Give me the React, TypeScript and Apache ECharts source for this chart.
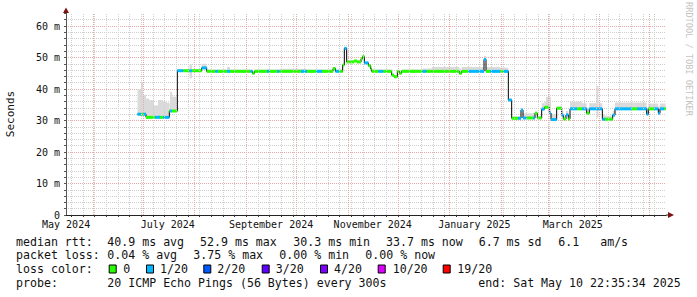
import React, { useEffect, useRef } from 'react';
import * as echarts from 'echarts';

const MONO = '"DejaVu Sans Mono", "Liberation Mono", monospace';

// Time frame: last 360 days ending Sat May 10 22:35:34 2025
const START_UTC = Date.UTC(2024, 4, 15, 22, 35, 34);
const SPAN_DAYS = 360;
const dayOf = (iso: string) => (Date.parse(iso + 'T00:00:00Z') - START_UTC) / 86400000;

const xLabelText = ['May 2024', 'July 2024', 'September 2024', 'November 2024', 'January 2025', 'March 2025'];
const xLabelDate = ['2024-05-16', '2024-07-16', '2024-09-16', '2024-11-16', '2025-01-16', '2025-03-16'];
const monthStartDate = [
  '2024-06-01', '2024-07-01', '2024-08-01', '2024-09-01', '2024-10-01', '2024-11-01',
  '2024-12-01', '2025-01-01', '2025-02-01', '2025-03-01', '2025-04-01', '2025-05-01',
];
const firstWeekDate = '2024-05-19';

const yMax = 64;
const yLabelValues = [0, 10, 20, 30, 40, 50, 60];

// Step data: each step holds from stepDay[i] until stepDay[i+1] (days since graph start)
const stepDay = [
  42.9, 45.0, 46.2, 48.0, 49.8, 52.8, 53.4, 55.2, 56.4, 58.2, 60.6, 62.0, 62.4, 63.6,
  66.8, 70.4, 74.1, 75.6, 81.4, 84.4, 89.7, 91.2, 96.6, 98.4, 110.7, 111.9, 113.1, 120.6,
  122.1, 126.6, 128.1, 141.0, 144.6, 150.0, 153.6, 160.2, 161.7, 163.8, 166.0, 167.0, 168.4, 172.8,
  174.6, 177.0, 177.9, 179.0, 181.4, 182.8, 183.4, 187.4, 190.4, 195.4, 196.8, 198.8, 200.1, 201.3,
  214.0, 216.4, 219.4, 236.0, 237.4, 241.2, 250.8, 252.0, 254.4, 260.4, 262.2, 265.4, 267.4, 271.2,
  273.0, 274.2, 276.6, 280.2, 281.4, 282.8, 285.4, 287.1, 288.0, 290.0, 291.0, 294.4, 297.4, 298.4,
  300.0, 301.4, 302.4, 306.6, 309.6, 312.4, 314.0, 318.3, 319.5, 321.8, 323.4, 328.0, 329.4, 339.6,
  342.6, 348.4, 349.4, 352.8, 355.4, 356.4, 358.8,
];
const lastDay = 359.8;
const medianMs = [
  32.0, 32.0, 32.0, 31.0, 31.0, 31.0, 31.0, 31.0, 31.0, 31.0, 31.0, 33.0, 33.0, 33.0,
  45.8, 45.8, 45.8, 45.8, 46.7, 45.6, 45.6, 45.6, 45.6, 45.6, 45.6, 45.0, 45.6, 45.6,
  45.6, 45.6, 45.6, 45.6, 45.6, 45.6, 45.6, 46.5, 45.6, 45.6, 47.6, 52.9, 48.6, 48.9,
  48.6, 49.6, 50.3, 48.3, 47.4, 46.4, 45.6, 45.6, 45.6, 44.4, 43.9, 45.6, 45.0, 45.6,
  45.6, 45.6, 45.6, 45.0, 45.6, 45.6, 49.4, 45.6, 45.6, 45.6, 45.6, 36.5, 30.7, 30.7,
  33.3, 30.8, 30.8, 30.8, 32.3, 30.8, 33.6, 34.2, 34.2, 32.4, 30.3, 33.9, 31.7, 30.5,
  31.8, 30.5, 33.7, 33.7, 33.7, 32.3, 33.7, 33.7, 33.7, 30.4, 30.4, 31.7, 33.7, 33.7,
  33.7, 32.0, 33.7, 33.7, 32.3, 33.7, 33.7,
];
const lossLevel = [
  1, 0, 1, 0, 0, 0, 1, 1, 0, 1, 1, 0, 1, 0,
  1, 0, 1, 0, 1, 0, 1, 0, 1, 0, 1, 0, 0, 1,
  0, 1, 0, 1, 0, 1, 0, 0, 1, 0, 0, 1, 0, 0,
  0, 0, 0, 1, 0, 0, 0, 1, 0, 0, 0, 0, 0, 0,
  1, 0, 0, 0, 0, 1, 1, 0, 1, 0, 1, 1, 0, 1,
  1, 1, 0, 1, 0, 0, 1, 0, 0, 1, 1, 0, 1, 0,
  1, 0, 1, 0, 1, 0, 1, 1, 1, 1, 0, 1, 1, 0,
  1, 1, 0, 1, 1, 1, 0,
];
const smokeMinMs = [
  31.6, 31.6, 31.6, 30.7, 30.7, 30.7, 30.7, 30.7, 30.7, 30.7, 30.7, 32.7, 32.7, 32.7,
  45.5, 45.5, 43.4, 45.5, 46.3, 45.3, 45.3, 45.3, 45.3, 45.3, 45.3, 44.7, 45.3, 45.3,
  45.3, 45.3, 45.3, 45.3, 45.3, 45.3, 45.3, 46.2, 45.3, 45.3, 47.3, 52.6, 48.3, 48.6,
  48.3, 49.3, 50.0, 48.0, 47.1, 46.1, 45.3, 45.3, 45.3, 44.1, 43.6, 45.3, 44.7, 45.3,
  45.3, 45.3, 45.3, 44.7, 45.3, 45.3, 49.1, 45.3, 45.3, 45.3, 45.3, 36.2, 30.4, 30.4,
  33.0, 30.5, 30.5, 30.5, 32.0, 30.5, 33.3, 33.9, 33.9, 32.1, 30.0, 33.6, 31.4, 30.2,
  31.5, 30.2, 33.4, 33.4, 33.4, 32.0, 33.4, 31.0, 33.4, 30.1, 30.1, 31.4, 33.4, 33.4,
  33.4, 31.7, 33.4, 33.4, 32.0, 33.4, 33.4,
];
const smokeMaxMs = [
  39.9, 42.0, 38.1, 37.0, 36.5, 34.8, 34.8, 36.5, 36.5, 36.0, 35.6, 35.6, 39.1, 37.6,
  46.3, 46.3, 47.8, 46.3, 48.0, 46.2, 46.2, 46.2, 47.0, 46.2, 46.2, 45.8, 46.2, 46.4,
  46.2, 46.2, 46.4, 46.4, 46.2, 46.2, 46.2, 46.8, 46.2, 46.2, 48.0, 53.2, 49.0, 49.2,
  49.0, 50.0, 50.6, 48.6, 47.7, 46.7, 46.2, 46.2, 46.2, 44.7, 44.2, 46.0, 45.4, 46.2,
  46.5, 46.5, 47.0, 46.5, 47.0, 47.0, 50.5, 47.0, 47.0, 46.8, 46.8, 37.0, 31.3, 31.3,
  33.6, 32.3, 32.3, 32.3, 32.8, 31.5, 35.5, 36.0, 37.5, 37.5, 32.0, 34.4, 33.0, 31.5,
  33.0, 31.5, 36.0, 36.0, 35.5, 34.0, 35.5, 41.0, 35.5, 32.0, 31.5, 33.0, 35.7, 35.7,
  35.7, 34.0, 35.4, 35.4, 34.5, 35.4, 35.4,
];

const lossLabels = ['0', '1/20', '2/20', '3/20', '4/20', '10/20', '19/20'];
const lossColors = ['#26ff00', '#00b8ff', '#0059ff', '#5e00ff', '#7e00ff', '#dd00ff', '#ff0000'];

const rttStats = ['40.9 ms avg', '52.9 ms max', '30.3 ms min', '33.7 ms now', '6.7 ms sd', '6.1   am/s'];
const lossStats = ['0.04 % avg', '3.75 % max', '0.00 % min', '0.00 % now'];
const probeText = '20 ICMP Echo Pings (56 Bytes) every 300s';
const endText = 'end: Sat May 10 22:35:34 2025';

export default function App() {
  const ref = useRef<HTMLDivElement>(null);

  useEffect(() => {
    const chart = echarts.init(ref.current!, null, { renderer: 'svg' });

    const xLabelDays = xLabelDate.map(dayOf);
    const monthDays = monthStartDate.map(dayOf);
    const weekDays: number[] = [];
    for (let d = dayOf(firstWeekDate); d < SPAN_DAYS; d += 7) weekDays.push(d);

    const segData = stepDay.map((d, i) => [
      d,
      i + 1 < stepDay.length ? stepDay[i + 1] : lastDay,
      medianMs[i],
      lossLevel[i],
      smokeMinMs[i],
      smokeMaxMs[i],
    ]);
    const lineData = stepDay.map((d, i) => [d, medianMs[i]]);
    lineData.push([lastDay, medianMs[medianMs.length - 1]]);

    const txt = (x: number, y: number, text: string, extra: any = {}) => ({
      type: 'text',
      x,
      y,
      silent: true,
      style: {
        text,
        fill: '#111',
        font: `11.6px ${MONO}`,
        textVerticalAlign: 'middle',
        ...extra,
      },
    });

    const rttX = [107.3, 200, 293.3, 386, 478.7, 558.3];
    const lossX = [107.3, 193.3, 279.3, 365.3];
    const boxX = [108.7, 146, 203.3, 261.7, 320, 377.7, 442.7];
    const boxLabelX = [123.3, 160, 217.3, 275.7, 334, 392.7, 457.3];
    const rowY = [241.7, 255.2, 269.3, 283.2];

    const graphic: any[] = [
      txt(16, rowY[0], 'median rtt:'),
      ...rttStats.map((s, i) => txt(rttX[i], rowY[0], s)),
      txt(16, rowY[1], 'packet loss:'),
      ...lossStats.map((s, i) => txt(lossX[i], rowY[1], s)),
      txt(16, rowY[2], 'loss color:'),
      ...lossColors.map((c, i) => ({
        type: 'rect',
        silent: true,
        shape: { x: boxX[i] + 0.5, y: 265, width: 7, height: 8 },
        style: { fill: c, stroke: '#000', lineWidth: 1 },
      })),
      ...lossLabels.map((s, i) => txt(boxLabelX[i], rowY[2], s)),
      txt(16, rowY[3], 'probe:'),
      txt(107.3, rowY[3], probeText),
      txt(478.3, rowY[3], endText),
      {
        type: 'text',
        x: 10.5,
        y: 114,
        rotation: Math.PI / 2,
        silent: true,
        style: {
          text: 'Seconds',
          fill: '#111',
          font: `11px ${MONO}`,
          textAlign: 'center',
          textVerticalAlign: 'middle',
        },
      },
      {
        type: 'text',
        x: 688.5,
        y: 59,
        rotation: -Math.PI / 2,
        silent: true,
        style: {
          text: 'RRDTOOL / TOBI OETIKER',
          fill: '#c4c4c4',
          font: `8.6px ${MONO}`,
          textAlign: 'center',
          textVerticalAlign: 'middle',
        },
      },
      {
        type: 'line',
        silent: true,
        shape: { x1: 666, y1: 215, x2: 669, y2: 215 },
        style: { stroke: '#222', lineWidth: 1 },
      },
      {
        type: 'polygon',
        silent: true,
        shape: { points: [[668, 212], [674, 215], [668, 218]] },
        style: { fill: '#7d1212' },
      },
      {
        type: 'line',
        silent: true,
        shape: { x1: 66, y1: 13.4, x2: 66, y2: 11 },
        style: { stroke: '#555', lineWidth: 1 },
      },
      {
        type: 'polygon',
        silent: true,
        shape: { points: [[63, 13], [66, 7.5], [69, 13]] },
        style: { fill: '#7d1212' },
      },
    ];

    const minorColor = '#cfcfcf';
    const majorColor = '#eaa9a9';
    const minorLine = { show: true, lineStyle: { color: minorColor, width: 1, type: [1, 1] } };
    const majorLine = { show: true, lineStyle: { color: majorColor, width: 1, type: [1, 1] } };

    const gridMarkSeries = (days: number[], color: string, z: number) => ({
      type: 'line',
      silent: true,
      xAxisIndex: 0,
      yAxisIndex: 0,
      z,
      symbol: 'none',
      lineStyle: { opacity: 0 },
      data: lineData,
      markLine: {
        silent: true,
        symbol: ['none', 'none'],
        label: { show: false },
        emphasis: { disabled: true },
        lineStyle: { color, width: 1, type: [1, 1] },
        data: days.map((d) => ({ xAxis: d })),
      },
    });

    chart.setOption({
      animation: false,
      backgroundColor: '#ffffff',
      grid: { left: 66, top: 13.4, width: 600, height: 201.6, containLabel: false, outerBoundsMode: 'none' },
      xAxis: [
        {
          type: 'value',
          min: 0,
          max: SPAN_DAYS,
          position: 'bottom',
          axisLine: { show: true, lineStyle: { color: '#222', width: 1 } },
          axisTick: { show: true, length: 2, customValues: weekDays, lineStyle: { color: '#333' } },
          splitLine: { show: false },
          axisLabel: {
            show: true,
            customValues: xLabelDays,
            margin: 4,
            color: '#111',
            fontFamily: MONO,
            fontSize: 10,
            formatter: (v: number) => {
              const i = xLabelDays.findIndex((d) => Math.abs(d - v) < 0.01);
              return i >= 0 ? xLabelText[i] : '';
            },
          },
        },
      ],
      yAxis: [
        {
          type: 'value',
          min: 0,
          max: yMax,
          interval: 2,
          position: 'left',
          axisLine: { show: true, lineStyle: { color: '#555', width: 1 } },
          axisTick: { show: true, length: 2, lineStyle: { color: '#555' } },
          splitLine: { ...minorLine, showMinLine: false, showMaxLine: false },
          axisLabel: { show: false },
        },
        {
          type: 'value',
          min: 0,
          max: yMax,
          interval: 10,
          position: 'left',
          axisLine: { show: false },
          axisTick: { show: false },
          splitLine: { ...majorLine, showMinLine: false, showMaxLine: false },
          axisLabel: {
            show: true,
            margin: 6,
            color: '#111',
            fontFamily: MONO,
            fontSize: 10,
            showMaxLabel: false,
            formatter: (v: number) =>
              yLabelValues.includes(v) ? (v === 0 ? '0' : `${v} m`) : '',
          },
        },
      ],
      series: [
        gridMarkSeries(weekDays, minorColor, 0),
        gridMarkSeries(monthDays, majorColor, 1),
        {
          type: 'custom',
          name: 'smoke',
          silent: true,
          xAxisIndex: 0,
          yAxisIndex: 0,
          z: 2,
          encode: { x: [0, 1], y: [4, 5] },
          data: segData,
          renderItem: (_p: any, api: any) => {
            const a = api.coord([api.value(0), api.value(5)]);
            const b = api.coord([api.value(1), api.value(4)]);
            return {
              type: 'rect',
              shape: { x: a[0], y: a[1], width: b[0] - a[0], height: b[1] - a[1] },
              style: { fill: '#dadada' },
            };
          },
        },
        {
          type: 'line',
          name: 'median',
          silent: true,
          xAxisIndex: 0,
          yAxisIndex: 0,
          z: 3,
          step: 'end',
          symbol: 'none',
          lineStyle: { color: '#000', width: 1 },
          data: lineData,
        },
        {
          type: 'custom',
          name: 'loss',
          silent: true,
          xAxisIndex: 0,
          yAxisIndex: 0,
          z: 4,
          encode: { x: [0, 1], y: 2 },
          data: segData,
          renderItem: (_p: any, api: any) => {
            const a = api.coord([api.value(0), api.value(2)]);
            const b = api.coord([api.value(1), api.value(2)]);
            return {
              type: 'rect',
              shape: { x: a[0], y: a[1] - 1.5, width: b[0] - a[0], height: 3 },
              style: { fill: lossColors[api.value(3)] },
            };
          },
        },
      ],
      graphic,
    });

    return () => chart.dispose();
  }, []);

  return (
    <div
      ref={ref}
      style={{ position: 'fixed', left: 0, top: 0, width: 697, height: 297, background: '#fff' }}
    />
  );
}
